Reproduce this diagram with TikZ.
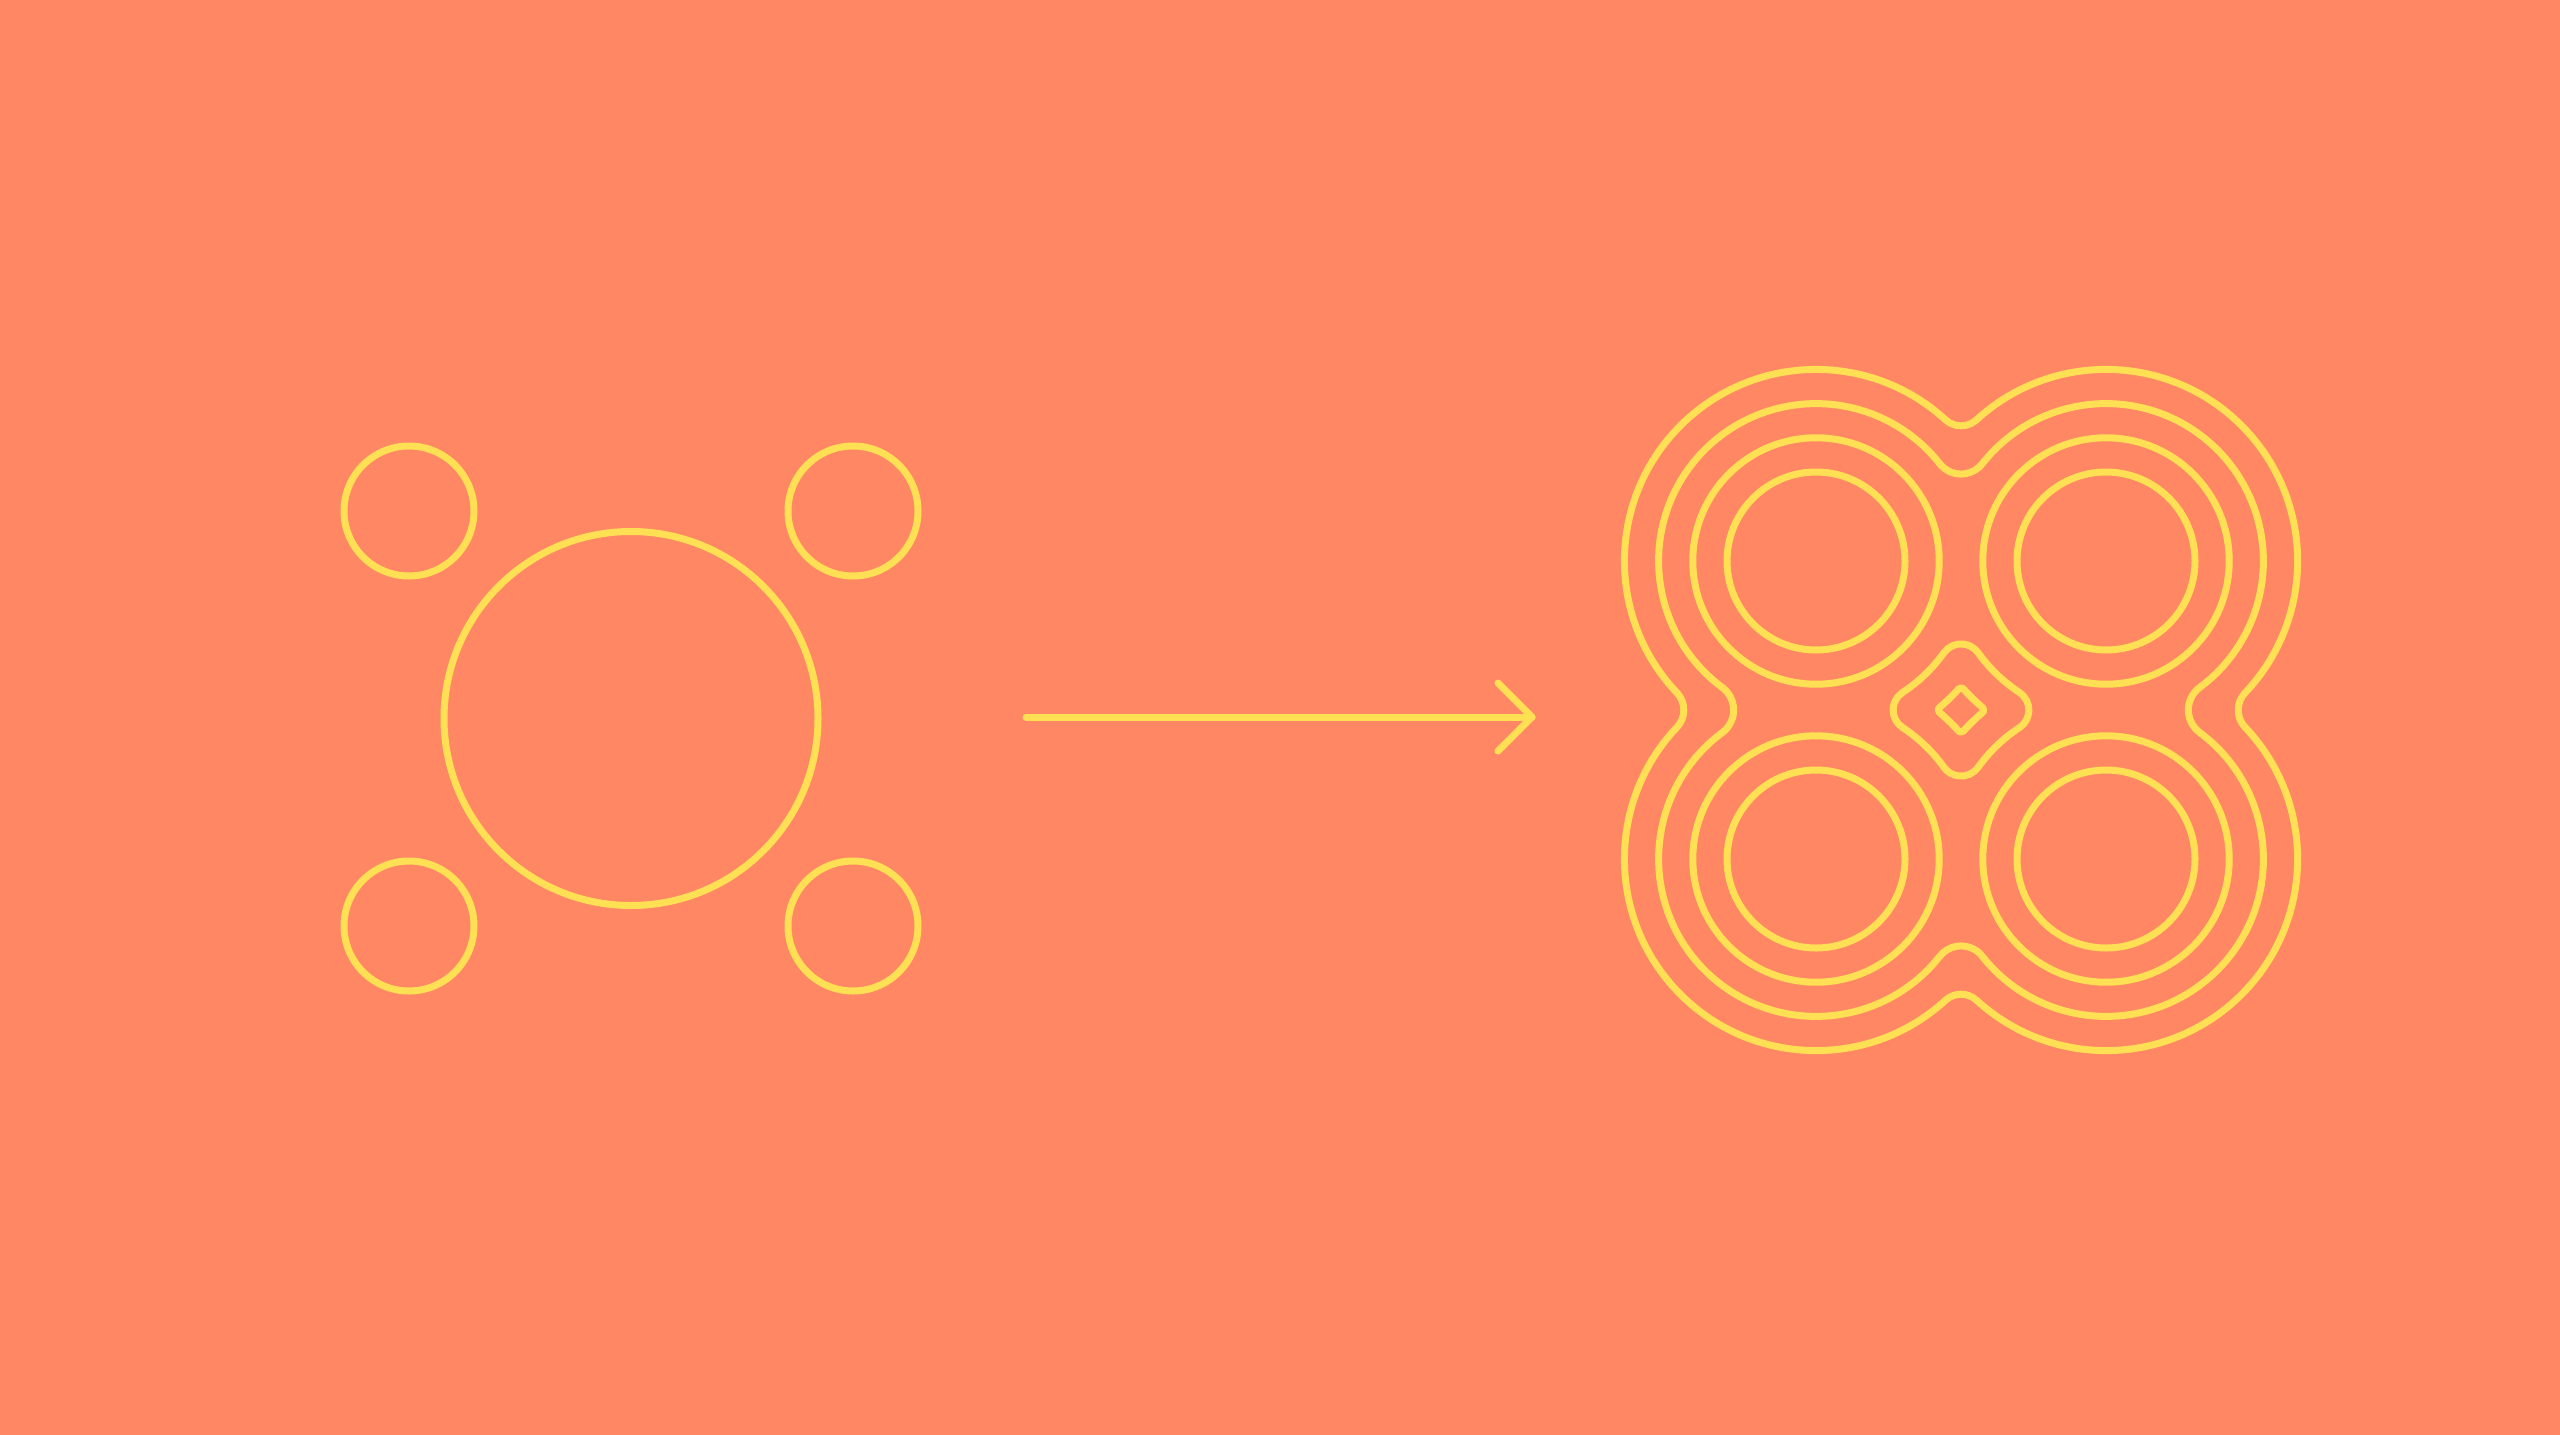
\documentclass[tikz,border=0pt]{standalone}
\usetikzlibrary{calc}
\definecolor{bgc}{RGB}{255,135,100}
\definecolor{lnc}{RGB}{255,224,84}
\tikzset{
  ring/.style={draw=lnc, line width=7pt, line join=round, line cap=round},
}
\newcommand\outerring[3]{%
  \pgfmathsetmacro\sa{sqrt((#1+#2)^2-14.5^2)}%
  \pgfmathsetmacro\sb{sqrt((#1+#3)^2-14.9^2)}%
  \pgfmathsetmacro\bt{atan(\sa/14.5)}%
  \pgfmathsetmacro\ds{atan(\sb/14.9)}%
  \pgfmathsetmacro\xs{181.6+#1*cos(90+\ds)}%
  \pgfmathsetmacro\ys{56.1+#1*sin(90+\ds)}%
  \draw[ring] (\xs,\ys)
    arc[start angle=90+\ds, end angle=360-\bt, radius=#1]
    arc[start angle=180-\bt, end angle=\bt, radius=#2]
    arc[start angle=180+\bt, end angle=450-\ds, radius=#1]
    arc[start angle=270-\ds, end angle=90+\ds, radius=#3]
    arc[start angle=270+\ds, end angle=540-\bt, radius=#1]
    arc[start angle=360-\bt, end angle=180+\bt, radius=#2]
    arc[start angle=\bt, end angle=270-\ds, radius=#1]
    arc[start angle=90-\ds, end angle=\ds-90, radius=#3]
    -- cycle;%
}
\newcommand\holering[2]{%
  \pgfmathsetmacro\ta{sqrt((#1+#2)^2-14.5^2)}%
  \pgfmathsetmacro\tb{sqrt((#1+#2)^2-14.9^2)}%
  \pgfmathsetmacro\bh{atan(\ta/14.5)}%
  \pgfmathsetmacro\dh{atan(\tb/14.9)}%
  \pgfmathsetmacro\xs{196.1+#2*cos(180+\bh)}%
  \pgfmathsetmacro\ys{56.1+\ta+#2*sin(180+\bh)}%
  \draw[ring] (\xs,\ys)
    arc[start angle=180+\bh, end angle=360-\bh, radius=#2]
    arc[start angle=180-\bh, end angle=90+\dh, radius=#1]
    arc[start angle=\dh-90, end angle=90-\dh, radius=#2]
    arc[start angle=270-\dh, end angle=180+\bh, radius=#1]
    arc[start angle=\bh, end angle=180-\bh, radius=#2]
    arc[start angle=360-\bh, end angle=270+\dh, radius=#1]
    arc[start angle=90+\dh, end angle=270-\dh, radius=#2]
    arc[start angle=90-\dh, end angle=\bh, radius=#1]
    -- cycle;%
}
\begin{document}
\begin{tikzpicture}[x=10pt,y=-10pt]
  \fill[bgc] (0,0) rectangle (256,143.5);
  \useasboundingbox (0,0) rectangle (256,143.5);
  % left: satellites and big circle
  \draw[ring] (40.9,51.1) circle[radius=6.5];
  \draw[ring] (85.3,51.1) circle[radius=6.5];
  \draw[ring] (40.9,92.6) circle[radius=6.5];
  \draw[ring] (85.3,92.6) circle[radius=6.5];
  \draw[ring] (63.1,71.85) circle[radius=18.7];
  % arrow
  \coordinate (arrowstart) at (102.6,71.7);
  \coordinate (arrowtip) at (153.2,71.7);
  \draw[ring] (arrowstart) -- (arrowtip);
  \draw[ring] ($(arrowtip)+(-3.4,-3.4)$) -- (arrowtip) -- ($(arrowtip)+(-3.4,3.4)$);
  % right: four centres with rings
  \foreach \cx/\cy in {181.6/56.1, 210.6/56.1, 181.6/85.9, 210.6/85.9}{
    \draw[ring] (\cx,\cy) circle[radius=8.9];
    \draw[ring] (\cx,\cy) circle[radius=12.32];
  }
  \outerring{15.74}{2.7}{2.8}
  \holering{15.74}{2.1}
  \outerring{19.16}{2.3}{2.5}
  \holering{19.16}{0.3}
\end{tikzpicture}
\end{document}
